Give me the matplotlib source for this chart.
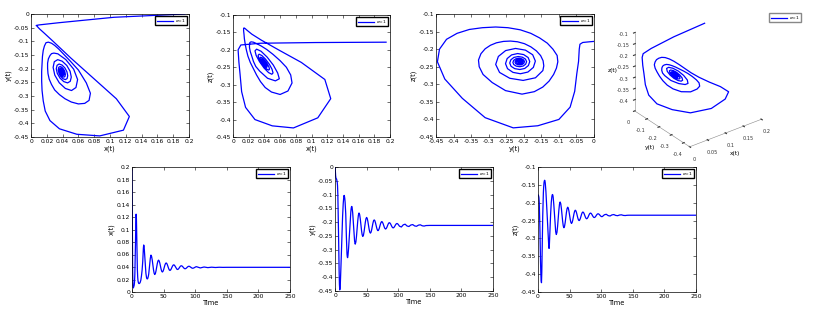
import numpy as np
import matplotlib
matplotlib.use("Agg")
import matplotlib.pyplot as plt
from matplotlib.ticker import FuncFormatter

# sample times (half steps early, unit steps later, sparse tail)
t = np.concatenate([np.arange(0, 27, 0.5), np.arange(27, 103), np.arange(105, 145, 3),
                    [150, 175, 200, 225, 250]])

x = [0.195, 0.105, 0.035, 0.010, 0.0065, 0.0075, 0.009, 0.011, 0.016, 0.028,
     0.050, 0.077, 0.108, 0.1245, 0.117, 0.087, 0.058, 0.036, 0.024, 0.018,
     0.0155, 0.014, 0.0135, 0.0135, 0.014, 0.0145, 0.0155, 0.017, 0.019, 0.022,
     0.026, 0.030, 0.035, 0.041, 0.049, 0.060, 0.070, 0.0752, 0.0735, 0.068,
     0.060, 0.051, 0.043, 0.036, 0.030, 0.026, 0.023, 0.0215, 0.021, 0.021,
     0.022, 0.024, 0.026, 0.029,
     0.034, 0.044, 0.054, 0.059, 0.0569, 0.0513, 0.0435, 0.0358, 0.0301, 0.028,
     0.0295, 0.0338, 0.0395, 0.0453, 0.0495, 0.051, 0.0497, 0.0463, 0.0415, 0.0368,
     0.0333, 0.032, 0.0330, 0.0356, 0.0393, 0.0429, 0.0455, 0.0465, 0.0457, 0.0435,
     0.0405, 0.0375, 0.0353, 0.0345, 0.0351, 0.0368, 0.0390, 0.0413, 0.0429, 0.0435,
     0.0430, 0.0416, 0.0398, 0.0379, 0.0365, 0.036, 0.0364, 0.0375, 0.0390, 0.0405,
     0.0416, 0.042, 0.0417, 0.0408, 0.0396, 0.0384, 0.0375, 0.0372, 0.0375, 0.0382,
     0.0392, 0.0402, 0.0409, 0.0412, 0.0410, 0.0404, 0.0396, 0.0388, 0.0382, 0.038,
     0.0382, 0.0386, 0.0392, 0.0399, 0.0403, 0.0405,
     0.0395, 0.0385, 0.0393, 0.0400, 0.0395, 0.0390, 0.0394, 0.0397, 0.0395, 0.0392,
     0.0394, 0.0396, 0.0395, 0.0394,
     0.0395, 0.0395, 0.0395, 0.0395, 0.0395]

y = [0.000, -0.012, -0.032, -0.040, -0.042, -0.044, -0.049, -0.055, -0.068, -0.100,
     -0.160, -0.230, -0.310, -0.375, -0.425, -0.446, -0.440, -0.420, -0.390, -0.355,
     -0.318, -0.280, -0.245, -0.210, -0.180, -0.155, -0.133, -0.117, -0.105, -0.103,
     -0.107, -0.115, -0.128, -0.146, -0.170, -0.205, -0.252, -0.290, -0.316, -0.327,
     -0.329, -0.322, -0.310, -0.295, -0.278, -0.258, -0.238, -0.218, -0.198, -0.180,
     -0.164, -0.152, -0.145, -0.143,
     -0.1457, -0.1667, -0.2018, -0.2399, -0.2690, -0.2800, -0.2724, -0.2517, -0.2235, -0.1953,
     -0.1746, -0.1670, -0.1727, -0.1883, -0.2095, -0.2308, -0.2463, -0.2520, -0.2474, -0.2348,
     -0.2175, -0.2003, -0.1876, -0.1830, -0.1868, -0.1973, -0.2115, -0.2258, -0.2362, -0.2400,
     -0.2368, -0.2280, -0.2160, -0.2040, -0.1952, -0.1920, -0.1946, -0.2018, -0.2115, -0.2213,
     -0.2284, -0.2310, -0.2288, -0.2228, -0.2145, -0.2063, -0.2002, -0.1980, -0.1998, -0.2048,
     -0.2115, -0.2183, -0.2232, -0.2250, -0.2235, -0.2193, -0.2135, -0.2078, -0.2035, -0.2020,
     -0.2033, -0.2068, -0.2115, -0.2163, -0.2197, -0.2210, -0.2199, -0.2170, -0.2130, -0.2090,
     -0.2061, -0.2050, -0.2059, -0.2083, -0.2115, -0.2148,
     -0.2177, -0.2098, -0.2076, -0.2141, -0.2160, -0.2105, -0.2090, -0.2138, -0.2151, -0.2110,
     -0.2098, -0.2133, -0.2143, -0.2125,
     -0.212, -0.212, -0.212, -0.212, -0.212]

z = [-0.178, -0.179, -0.181, -0.186, -0.200, -0.235, -0.270, -0.320, -0.365, -0.400,
     -0.418, -0.424, -0.395, -0.340, -0.285, -0.236, -0.200, -0.172, -0.155, -0.144,
     -0.139, -0.137, -0.139, -0.145, -0.155, -0.168, -0.183, -0.200, -0.218, -0.236,
     -0.254, -0.272, -0.291, -0.308, -0.321, -0.328, -0.318, -0.295, -0.272, -0.250,
     -0.231, -0.213, -0.199, -0.189, -0.182, -0.178, -0.177, -0.179, -0.1845, -0.1934,
     -0.205, -0.2184, -0.233, -0.2476,
     -0.2610, -0.2815, -0.2890, -0.2829, -0.2663, -0.2435, -0.2208, -0.2041, -0.1980, -0.2028,
     -0.2160, -0.2340, -0.2520, -0.2652, -0.2700, -0.2661, -0.2556, -0.2413, -0.2269, -0.2164,
     -0.2125, -0.2155, -0.2239, -0.2353, -0.2466, -0.2550, -0.2580, -0.2555, -0.2488, -0.2395,
     -0.2303, -0.2235, -0.2210, -0.2229, -0.2283, -0.2355, -0.2428, -0.2481, -0.2500, -0.2484,
     -0.2440, -0.2380, -0.2320, -0.2276, -0.2260, -0.2273, -0.2308, -0.2355, -0.2403, -0.2437,
     -0.2450, -0.2439, -0.2410, -0.2370, -0.2330, -0.2301, -0.2290, -0.2298, -0.2321, -0.2353,
     -0.2384, -0.2407, -0.2415, -0.2408, -0.2389, -0.2363, -0.2336, -0.2317, -0.2310, -0.2315,
     -0.2330, -0.2350, -0.2370, -0.2385, -0.2390, -0.2385,
     -0.2338, -0.2324, -0.2361, -0.2372, -0.2341, -0.2332, -0.2356, -0.2363, -0.2345, -0.2339,
     -0.2355, -0.2359, -0.2352, -0.2350,
     -0.235, -0.235, -0.235, -0.235, -0.235]

label = r"$\alpha$=1"
blue = "#0000ff"
fs = 4.3

fig = plt.figure(figsize=(8.23, 3.11), dpi=100)


def box(l, tp, r, b):
    return [l / 823, 1 - b / 311, (r - l) / 823, (b - tp) / 311]


def fmt(v, pos):
    s = "%g" % round(v, 3)
    return "0" if s in ("-0", "0") else s


leg_kw = dict(fontsize=3.2, handlelength=3.8, borderpad=0.25, handletextpad=0.3,
              fancybox=False, framealpha=1)


def panel(rect, xs, ys, xlim, ylim, xticks, yticks, xlabel, ylabel):
    ax = fig.add_axes(box(*rect))
    ax.plot(xs, ys, color=blue, lw=0.9, label=label)
    ax.set_xlim(xlim)
    ax.set_ylim(ylim)
    ax.set_xticks(xticks)
    ax.set_yticks(yticks)
    ax.xaxis.set_major_formatter(FuncFormatter(fmt))
    ax.yaxis.set_major_formatter(FuncFormatter(fmt))
    ax.tick_params(direction="in", length=2, width=0.4, labelsize=fs, pad=1.5,
                   top=True, right=True)
    for s in ax.spines.values():
        s.set_linewidth(0.5)
    ax.set_xlabel(xlabel, fontsize=4.8, labelpad=1)
    ax.set_ylabel(ylabel, fontsize=4.8, labelpad=1)
    ax.legend(loc="upper right", edgecolor="black", **leg_kw)
    return ax


xt = np.arange(0, 0.201, 0.02)
panel((31, 14, 189, 137), x, y, (0, 0.2), (-0.45, 0), xt, np.arange(-0.45, 0.001, 0.05),
      "x(t)", "y(t)")
panel((233, 15, 390, 137), x, z, (0, 0.2), (-0.45, -0.1), xt, np.arange(-0.45, -0.099, 0.05),
      "x(t)", "z(t)")
panel((436, 14, 594, 137), y, z, (-0.45, 0), (-0.45, -0.1), np.arange(-0.45, 0.001, 0.05),
      np.arange(-0.45, -0.099, 0.05), "y(t)", "z(t)")

tt = np.arange(0, 251, 50)
panel((132, 167, 290, 292), t, x, (0, 250), (0, 0.2), tt, xt, "Time", "x(t)")
panel((335, 167, 493, 291), t, y, (0, 250), (-0.45, 0), tt, np.arange(-0.45, 0.001, 0.05),
      "Time", "y(t)")
panel((538, 167, 696, 292), t, z, (0, 250), (-0.45, -0.1), tt, np.arange(-0.45, -0.099, 0.05),
      "Time", "z(t)")

# 3D trajectory
ax3 = fig.add_axes(box(620, 2, 772, 154), projection="3d")
ax3.set_proj_type("ortho")
ax3.set_box_aspect((1, 1, 1))
ax3.plot(x, y, z, color=blue, lw=0.9, label=label)
ax3.set_xlim(0, 0.2)
ax3.set_ylim(-0.45, 0)
ax3.set_zlim(-0.45, -0.1)
ax3.set_xticks([0, 0.05, 0.1, 0.15, 0.2])
ax3.set_yticks([-0.4, -0.3, -0.2, -0.1, 0])
ax3.set_zticks([-0.4, -0.35, -0.3, -0.25, -0.2, -0.15, -0.1])
for a in (ax3.xaxis, ax3.yaxis, ax3.zaxis):
    a.set_major_formatter(FuncFormatter(fmt))
    a.pane.set_visible(False)
    a.line.set_linewidth(0.4)
    a.line.set_color("#888888")
ax3.grid(False)
ax3.view_init(elev=30, azim=-127.5)
ax3.tick_params(labelsize=3.6, pad=-3, colors="#333333")
ax3.set_xlabel("x(t)", fontsize=4.2, labelpad=-11)
ax3.set_ylabel("y(t)", fontsize=4.2, labelpad=-11)
ax3.set_zlabel("z(t)", fontsize=4.2, labelpad=-11)
ax3.legend(loc="upper right", bbox_to_anchor=(803 / 823, 1 - 11 / 311),
           bbox_transform=fig.transFigure, edgecolor="#888888", **leg_kw)

fig.savefig("out.png", dpi=100, facecolor="white")
